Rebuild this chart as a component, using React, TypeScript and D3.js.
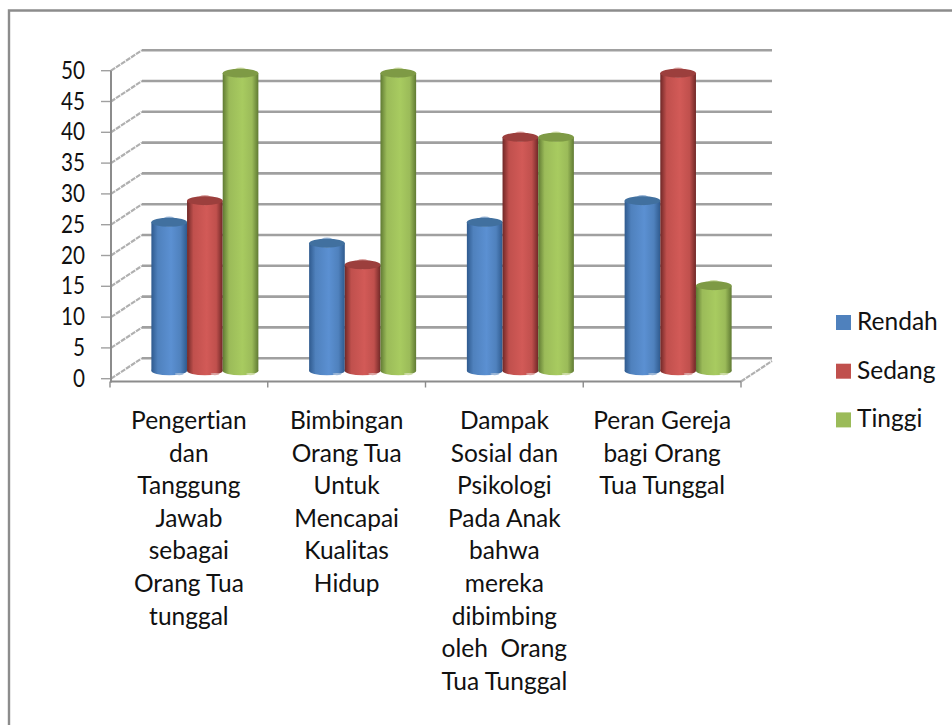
import React from "react";
import * as d3 from "d3";

// Survey result shares per theme, in percent.
const seriesNames = ["Rendah", "Sedang", "Tinggi"];
const categoryLines = [
  ["Pengertian", "dan", "Tanggung", "Jawab", "sebagai", "Orang Tua", "tunggal"],
  ["Bimbingan", "Orang Tua", "Untuk", "Mencapai", "Kualitas", "Hidup"],
  ["Dampak", "Sosial dan", "Psikologi", "Pada Anak", "bahwa", "mereka", "dibimbing", "oleh  Orang", "Tua Tunggal"],
  ["Peran Gereja", "bagi Orang", "Tua Tunggal"],
];
const rendah = [24.1, 20.7, 24.1, 27.6];
const sedang = [27.6, 17.2, 37.9, 48.3];
const tinggi = [48.3, 48.3, 37.9, 13.8];
const tickValues = [0, 5, 10, 15, 20, 25, 30, 35, 40, 45, 50];

const seriesValues = [rendah, sedang, tinggi];
const palette = [
  { swatch: "#4f81bd", edge: "#2f5a8e", mid: "#5b90d2", cap: "#41709f", rim: "#9db8d8" },
  { swatch: "#c0504d", edge: "#702827", mid: "#d25a57", cap: "#9c3f3d", rim: "#dca6a4" },
  { swatch: "#9bbb59", edge: "#607a33", mid: "#a8cb60", cap: "#7e9a45", rim: "#cfdda8" },
];

const FONT = "Lato, 'Open Sans', sans-serif";
const TEXT_SIZE = 24.5;
const WALL_DX = 31;
const WALL_DY = -20.5;
const BAR_DY = -8;
const CAP_RY = 4.5;

export default function App() {
  const x = d3.scaleBand<number>().domain([0, 1, 2, 3]).range([110, 741]);
  const inner = d3.scaleBand<number>().domain([0, 1, 2]).range([0, 107]);
  const y = d3.scaleLinear().domain([0, 50]).range([378.7, 70.7]);
  const floorY = 381.5;
  const groupStart = (i: number) => (x(i) as number) + x.bandwidth() / 2 + 16 - 53.5;

  return (
    <svg
      width={952}
      height={725}
      style={{ position: "absolute", left: 0, top: 0, display: "block", background: "#fff", fontVariantLigatures: "none" }}
      fontFamily={FONT}
    >
      <defs>
        {palette.map((p, i) => (
          <linearGradient id={`cyl${i}`} key={i} x1="0" x2="1" y1="0" y2="0">
            <stop offset="0" stopColor={p.edge} />
            <stop offset="0.18" stopColor={p.swatch} />
            <stop offset="0.55" stopColor={p.mid} />
            <stop offset="0.82" stopColor={p.swatch} />
            <stop offset="1" stopColor={p.edge} />
          </linearGradient>
        ))}
      </defs>

      {/* Outer frame: only the top and left edges fall inside the page */}
      <path d="M9 725 V10.5 H952" fill="none" stroke="#8c8c8c" strokeWidth={2.4} />

      {/* Back wall gridlines with their slanted side-wall segments */}
      {tickValues.map((v) => (
        <g key={v}>
          <line x1={111} x2={111 + WALL_DX} y1={y(v)} y2={y(v) + WALL_DY} stroke="#b0b0b0" strokeWidth={2.2} strokeDasharray="5 1" />
          <line x1={111 + WALL_DX} x2={772} y1={y(v) + WALL_DY} y2={y(v) + WALL_DY} stroke="#a0a0a0" strokeWidth={2.6} />
          <line x1={101} x2={111} y1={y(v)} y2={y(v)} stroke="#a0a0a0" strokeWidth={1.4} />
          <text
            x={85}
            y={y(v) + 8}
            textAnchor="end"
            fontSize={TEXT_SIZE}
            fill="#111"
            textLength={String(v).length * 12}
            lengthAdjust="spacingAndGlyphs"
          >
            {v}
          </text>
        </g>
      ))}

      {/* Category and value axes */}
      <line x1={111} x2={111} y1={y(50)} y2={floorY + 1} stroke="#8c8c8c" strokeWidth={2} />
      <line x1={110} x2={741} y1={floorY} y2={floorY} stroke="#8c8c8c" strokeWidth={2} />
      <line x1={741} x2={772} y1={floorY} y2={floorY + WALL_DY} stroke="#b0b0b0" strokeWidth={2.2} strokeDasharray="5 1" />
      {[0, 1, 2, 3, 4].map((i) => {
        const tx = i < 4 ? (x(i) as number) : 741;
        return <line key={i} x1={tx} x2={tx} y1={floorY} y2={floorY + 6} stroke="#8c8c8c" strokeWidth={1.4} />;
      })}

      {/* Cylinders */}
      {categoryLines.map((_, c) => (
        <g key={c}>
          {seriesValues.map((vals, s) => {
            const left = groupStart(c) + (inner(s) as number);
            const w = inner.bandwidth();
            const cx = left + w / 2;
            const top = y(vals[c]) + BAR_DY;
            const base = y(0) + BAR_DY;
            const p = palette[s];
            return (
              <g key={s}>
                <ellipse cx={cx} cy={base} rx={w / 2} ry={CAP_RY} fill={`url(#cyl${s})`} />
                <ellipse cx={cx + w * 0.28} cy={base + 3.4} rx={w * 0.12} ry={1.1} fill={p.rim} />
                <rect x={left} y={top} width={w} height={base - top} fill={`url(#cyl${s})`} />
                <ellipse cx={cx} cy={top - 0.6} rx={w * 0.22} ry={CAP_RY + 0.6} fill={p.rim} />
                <ellipse cx={cx} cy={top} rx={w / 2} ry={CAP_RY} fill={p.cap} />
              </g>
            );
          })}
        </g>
      ))}

      {/* Wrapped category labels */}
      {categoryLines.map((lines, c) => (
        <text key={c} textAnchor="middle" fontSize={TEXT_SIZE} fill="#111" xmlSpace="preserve">
          {lines.map((line, i) => (
            <tspan key={i} x={(x(c) as number) + x.bandwidth() / 2} y={429 + i * 32.6}>
              {line}
            </tspan>
          ))}
        </text>
      ))}

      {/* Legend */}
      {seriesNames.map((name, i) => (
        <g key={name}>
          <rect x={836} y={315 + i * 48.7} width={15} height={15} fill={palette[i].swatch} />
          <text x={857} y={330 + i * 48.7} fontSize={TEXT_SIZE} fill="#111">
            {name}
          </text>
        </g>
      ))}
    </svg>
  );
}
